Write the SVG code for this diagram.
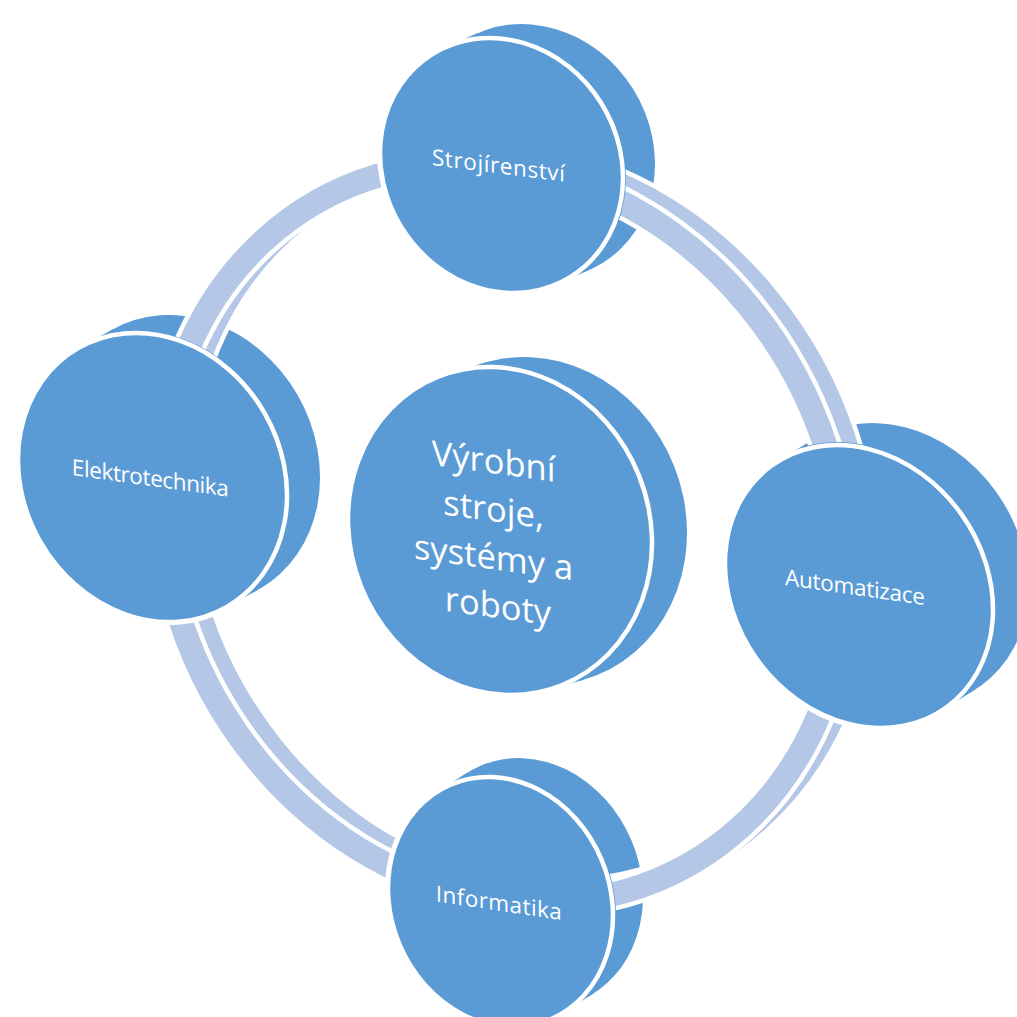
<svg xmlns="http://www.w3.org/2000/svg" width="1017" height="1017" viewBox="0 0 1017 1017">
  <style>
    .disc { fill: #5B9BD5; }
    .face { fill: #5B9BD5; stroke: #FFFFFF; stroke-width: 4.5; }
    .cut { fill: #000000; stroke: #000000; stroke-width: 6; }
    .rim { fill: none; stroke: #FFFFFF; stroke-width: 33; }
    .band { fill: none; stroke: #B4C7E7; stroke-width: 24; }
    .label { font-family: "Open Sans", "Noto Sans", "DejaVu Sans", sans-serif; fill: #FFFFFF; text-anchor: middle; }
    .small { font-size: 22.5px; }
    .big { font-size: 34.5px; }
  </style>
  <defs>
    <!-- ring arcs, drawn on a tilted ellipse through the outer nodes -->
    <path id="arc-1" transform="translate(503 533) rotate(61.8)" d="M -325.1 -172.0 A 380 332 0 0 1 208.1 -277.8"/>
    <path id="arc-2" transform="translate(503 533) rotate(61.8)" d="M 208.1 -277.8 A 380 332 0 0 1 322.0 176.3"/>
    <path id="arc-3" transform="translate(503 533) rotate(61.8)" d="M 322.0 176.3 A 380 332 0 0 1 -210.0 276.7"/>
    <path id="arc-4" transform="translate(503 533) rotate(61.8)" d="M -210.0 276.7 A 380 332 0 0 1 -325.1 -172.0"/>
    <!-- connectors stop at the front faces of the discs -->
    <mask id="face-cut" maskUnits="userSpaceOnUse" x="0" y="0" width="1017" height="1017">
      <rect width="1017" height="1017" fill="#FFFFFF"/>
      <ellipse class="cut" cx="501.5" cy="165.5" rx="117.6" ry="131.1" transform="rotate(-31.8 501.5 165.5)"/>
      <ellipse class="cut" cx="859" cy="586.5" rx="125.4" ry="149.2" transform="rotate(-35.8 859 586.5)"/>
      <ellipse class="cut" cx="500.5" cy="902" rx="109.6" ry="127.5" transform="rotate(-22.8 500.5 902)"/>
      <ellipse class="cut" cx="152.5" cy="477.5" rx="129.3" ry="149.2" transform="rotate(-29.9 152.5 477.5)"/>
    </mask>
  </defs>

  <rect width="1017" height="1017" fill="#FFFFFF"/>

  <!-- central disc -->
  <g id="node-center">
    <ellipse class="disc" cx="535" cy="521" rx="149.6" ry="166.2" transform="rotate(-21.8 535 521)"/>
    <polygon class="disc" points="548.7,689.8 583.7,679.8 486.3,362.3 451.3,372.3"/>
    <ellipse class="face" cx="500" cy="531" rx="149.6" ry="166.2" transform="rotate(-21.8 500 531)"/>
    <text class="label big" transform="translate(498 474) skewY(7.8)">
      <tspan x="0" y="0">Výrobní</tspan>
      <tspan x="0" y="48">stroje,</tspan>
      <tspan x="0" y="96">systémy a</tspan>
      <tspan x="0" y="144">roboty</tspan>
    </text>
  </g>

  <!-- top disc -->
  <g id="node-strojirenstvi">
    <ellipse class="disc" cx="533.5" cy="151.5" rx="117.6" ry="131.1" transform="rotate(-31.8 533.5 151.5)"/>
    <polygon class="disc" points="557.2,283.9 589.2,269.9 477.8,33.1 445.8,47.1"/>
    <ellipse class="face" cx="501.5" cy="165.5" rx="117.6" ry="131.1" transform="rotate(-31.8 501.5 165.5)"/>
    <text class="label small" transform="translate(498.4 173.4) skewY(7.1)" textLength="133" lengthAdjust="spacing">Strojírenství</text>
  </g>

  <!-- right disc -->
  <g id="node-automatizace">
    <ellipse class="disc" cx="894" cy="564.5" rx="125.4" ry="149.2" transform="rotate(-35.8 894 564.5)"/>
    <polygon class="disc" points="940.7,711.3 975.7,689.3 812.3,439.7 777.3,461.7"/>
    <ellipse class="face" cx="859" cy="586.5" rx="125.4" ry="149.2" transform="rotate(-35.8 859 586.5)"/>
    <text class="label small" transform="translate(855 595) skewY(8.1)" textLength="140" lengthAdjust="spacing">Automatizace</text>
  </g>

  <!-- bottom disc -->
  <g id="node-informatika">
    <ellipse class="disc" cx="530.5" cy="883" rx="109.6" ry="127.5" transform="rotate(-22.8 530.5 883)"/>
    <polygon class="disc" points="563.9,1012.3 593.9,993.3 467.1,772.7 437.1,791.7"/>
    <ellipse class="face" cx="500.5" cy="902" rx="109.6" ry="127.5" transform="rotate(-22.8 500.5 902)"/>
    <text class="label small" transform="translate(498.8 910.8) skewY(8.3)" textLength="126" lengthAdjust="spacing">Informatika</text>
  </g>

  <!-- left disc -->
  <g id="node-elektrotechnika">
    <ellipse class="disc" cx="185.5" cy="459.5" rx="129.3" ry="149.2" transform="rotate(-29.9 185.5 459.5)"/>
    <polygon class="disc" points="224.7,608.1 257.7,590.1 113.3,328.9 80.3,346.9"/>
    <ellipse class="face" cx="152.5" cy="477.5" rx="129.3" ry="149.2" transform="rotate(-29.9 152.5 477.5)"/>
    <text class="label small" transform="translate(150.3 485.8) skewY(7.85)" textLength="157" lengthAdjust="spacing">Elektrotechnika</text>
  </g>

  <!-- cycle connectors: extruded bands with a white outline -->
  <g id="connectors" mask="url(#face-cut)">
    <g id="conn-strojirenstvi-automatizace">
      <use href="#arc-1" class="rim" transform="translate(18 -8)"/>
      <use href="#arc-1" class="band" transform="translate(18 -8)"/>
      <use href="#arc-1" class="rim"/>
      <use href="#arc-1" class="band"/>
    </g>
    <g id="conn-automatizace-informatika">
      <use href="#arc-2" class="rim" transform="translate(18 -8)"/>
      <use href="#arc-2" class="band" transform="translate(18 -8)"/>
      <use href="#arc-2" class="rim"/>
      <use href="#arc-2" class="band"/>
    </g>
    <g id="conn-informatika-elektrotechnika">
      <use href="#arc-3" class="rim" transform="translate(18 -8)"/>
      <use href="#arc-3" class="band" transform="translate(18 -8)"/>
      <use href="#arc-3" class="rim"/>
      <use href="#arc-3" class="band"/>
    </g>
    <g id="conn-elektrotechnika-strojirenstvi">
      <use href="#arc-4" class="rim" transform="translate(18 -8)"/>
      <use href="#arc-4" class="band" transform="translate(18 -8)"/>
      <use href="#arc-4" class="rim"/>
      <use href="#arc-4" class="band"/>
    </g>
  </g>
</svg>
